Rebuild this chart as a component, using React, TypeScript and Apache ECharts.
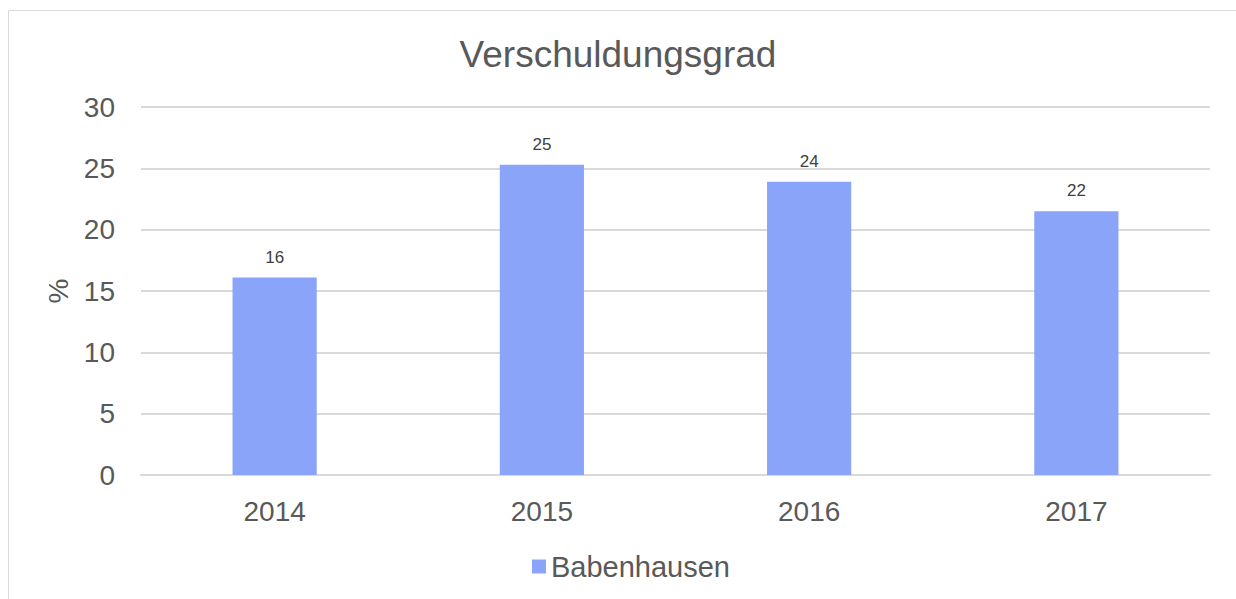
import React, { useEffect, useRef } from "react";
import * as echarts from "echarts";

const title = "Verschuldungsgrad";
const categories = ["2014", "2015", "2016", "2017"];
const seriesName = "Babenhausen";
const values = [16.1, 25.3, 23.9, 21.5];
const yTicks = { min: 0, max: 30, interval: 5 };
const yAxisName = "%";

const FONT = "'Liberation Sans', Arial, sans-serif";
const TEXT = "#595959";

export default function App() {
  const ref = useRef<HTMLDivElement>(null);
  useEffect(() => {
    if (!ref.current) return;
    const chart = echarts.init(ref.current, undefined, { renderer: "svg" });
    chart.setOption({
      animation: false,
      textStyle: { fontFamily: FONT },
      title: {
        text: title,
        left: "center",
        top: 31,
        textStyle: { fontFamily: FONT, fontSize: 37, fontWeight: "normal", color: TEXT },
      },
      graphic: [
        {
          type: "rect",
          shape: { x: 8.5, y: 10.5, width: 1240, height: 600 },
          style: { fill: "none", stroke: "#d9d9d9", lineWidth: 1 },
          silent: true,
        },
      ],
      legend: {
        bottom: 13,
        left: 527,
        itemWidth: 14,
        itemHeight: 14,
        itemGap: 10,
        icon: "rect",
        textStyle: { fontFamily: FONT, fontSize: 29, color: TEXT },
        data: [seriesName],
      },
      grid: { left: 141, right: 26, top: 107, bottom: 124, containLabel: false },
      xAxis: {
        type: "category",
        data: categories,
        axisLine: { lineStyle: { color: "#d9d9d9", width: 2 } },
        axisTick: { show: false },
        axisLabel: { fontFamily: FONT, fontSize: 28, color: TEXT, margin: 22 },
      },
      yAxis: {
        type: "value",
        min: yTicks.min,
        max: yTicks.max,
        interval: yTicks.interval,
        name: yAxisName,
        nameLocation: "middle",
        nameGap: 68,
        nameRotate: 90,
        nameTextStyle: { fontFamily: FONT, fontSize: 28, color: TEXT },
        axisLine: { show: false },
        axisTick: { show: false },
        splitLine: { lineStyle: { color: "#d9d9d9", width: 2 } },
        axisLabel: { fontFamily: FONT, fontSize: 28, color: TEXT, margin: 26 },
      },
      series: [
        {
          name: seriesName,
          type: "bar",
          data: values,
          barWidth: "31.5%",
          itemStyle: { color: "#89a4f9" },
          label: {
            show: true,
            position: "top",
            distance: 12,
            fontFamily: FONT,
            fontSize: 17,
            color: "#404040",
            formatter: (p: any) => String(Math.round(p.value)),
          },
        },
      ],
    });
    return () => chart.dispose();
  }, []);
  return (
    <div
      ref={ref}
      style={{ position: "absolute", left: 0, top: 0, width: 1236, height: 599 }}
    />
  );
}
